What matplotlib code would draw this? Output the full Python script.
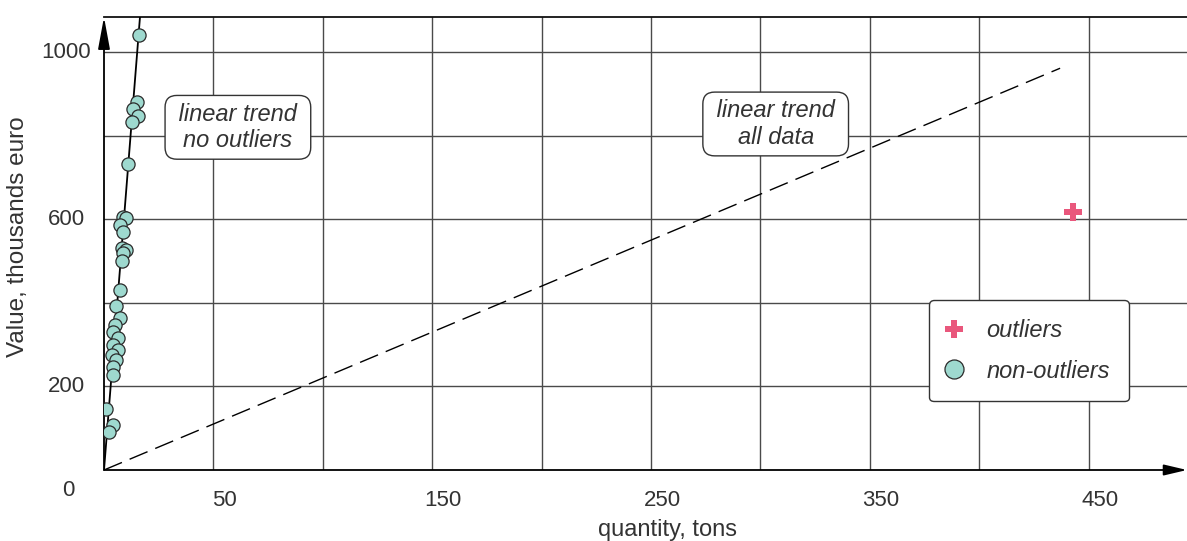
import numpy as np
import matplotlib
matplotlib.use("Agg")
from matplotlib import pyplot as plt
from matplotlib.lines import Line2D

plt.rcParams['font.family'] = ['Liberation Sans', 'DejaVu Sans']

# non-outlier points (quantity in tons, value in thousands euro)
qty = [16.0, 15.1, 13.3, 15.5, 12.8, 11.0, 8.7, 10.1, 7.3, 8.7,
       8.2, 10.1, 8.7, 8.2, 7.3, 5.5, 7.3, 5.0, 4.1, 6.4,
       4.1, 6.4, 3.7, 5.5, 4.1, 4.1, 0.9, 4.1, 2.3]
value = [1040, 880, 864, 848, 832, 732, 605, 603, 586, 569,
         531, 526, 519, 500, 431, 392, 364, 347, 330, 316,
         299, 287, 275, 263, 246, 227, 146, 108, 91]

# outliers
out_qty = [442.9]
out_value = [617]

# trend lines through the origin
slope_no_outliers = 65.9
end_no_outliers = 17.0
slope_all = 2.2
end_all = 437.0

x_grid = [50, 100, 150, 200, 250, 300, 350, 400, 450]
y_grid = [200, 400, 600, 800, 1000]
x_labels = [50, 150, 250, 350, 450]
y_labels = [200, 600, 1000]

text_col = '#333333'
fs = 16      # tick labels
fs_txt = 17  # boxes, legend, axis titles

fig = plt.figure(figsize=(11.87, 5.41), dpi=100)
ax = fig.add_axes([104/1187, 71/541, 1083/1187, 453/541])
ax.set_xlim(0, 495)
ax.set_ylim(0, 1084)

# grid
ax.set_xticks(x_grid)
ax.set_yticks(y_grid)
ax.tick_params(length=0, labelbottom=False, labelleft=False)
ax.grid(True, color='#4a4a4a', linewidth=1.0)
ax.set_axisbelow(True)

for s in ['right', 'bottom', 'left']:
    ax.spines[s].set_visible(False)
ax.spines['top'].set_linewidth(1.3)
ax.spines['top'].set_color('#111111')

# axes with arrows
ax.annotate('', xy=(1.0, 0), xytext=(0, 0), xycoords='axes fraction',
            arrowprops=dict(arrowstyle='-|>,head_length=1.4,head_width=0.33',
                            mutation_scale=10, color='black', lw=1.3,
                            shrinkA=0, shrinkB=0), annotation_clip=False)
ax.annotate('', xy=(0, 1.0), xytext=(0, 0), xycoords='axes fraction',
            arrowprops=dict(arrowstyle='-|>,head_length=1.95,head_width=0.36',
                            mutation_scale=10, color='black', lw=1.3,
                            shrinkA=0, shrinkB=0), annotation_clip=False)

# trend lines
xs = np.array([0, end_no_outliers])
ax.plot(xs, slope_no_outliers*xs, color='black', lw=1.3, zorder=3)
xa = np.array([0, end_all])
ax.plot(xa, slope_all*xa, color='black', lw=1.0, dashes=(14, 6), zorder=3)

# points
ax.scatter(qty, value, s=90, facecolor='#9ed9cf', edgecolor='#2a2a2a',
           linewidth=0.9, zorder=4)
ax.scatter(out_qty, out_value, s=150, marker='P', color='#e9577c',
           linewidth=0, zorder=4)

# annotations
box = dict(boxstyle='round,pad=0.3,rounding_size=0.5', facecolor='white',
           edgecolor='#333333', linewidth=1.0)
ax.text(61.2, 820, ' linear trend \nno outliers', ha='center', va='center',
        style='italic', fontsize=fs_txt, color=text_col, bbox=box, zorder=5,
        linespacing=1.2)
ax.text(307, 828, ' linear trend \nall data', ha='center', va='center',
        style='italic', fontsize=fs_txt, color=text_col, bbox=box, zorder=5,
        linespacing=1.2)

# tick labels
for v in x_labels:
    ax.annotate(str(v), xy=(v, 0), xytext=(8, -22), textcoords='offset points',
                ha='center', va='center', fontsize=fs, color=text_col,
                annotation_clip=False)
for v in y_labels:
    ax.annotate(str(v), xy=(0, v), xytext=(-27.4, 0), textcoords='offset points',
                ha='center', va='center', fontsize=fs, color=text_col,
                annotation_clip=False)
ax.annotate('0', xy=(0, 0), xytext=(-26, -14.4), textcoords='offset points',
            ha='center', va='center', fontsize=fs, color=text_col,
            annotation_clip=False)

fig.text(667/1187, 1-530/541, 'quantity, tons', ha='center', va='center',
         fontsize=fs_txt, color=text_col)
fig.text(18/1187, 1-237/541, 'Value, thousands euro', ha='center', va='center',
         rotation=90, fontsize=17.5, color=text_col)

# legend
handles = [Line2D([], [], linestyle='none', marker='P', markersize=13,
                  color='#e9577c', markeredgewidth=0),
           Line2D([], [], linestyle='none', marker='o', markersize=13.7,
                  markerfacecolor='#9ed9cf', markeredgecolor='#2a2a2a',
                  markeredgewidth=0.9)]
leg = ax.legend(handles, ['outliers', 'non-outliers'], loc='upper left',
                bbox_to_anchor=(929/1187, 1-300/541), bbox_transform=fig.transFigure,
                borderaxespad=0, borderpad=0.8, handlelength=0.52,
                handletextpad=1.1, labelspacing=0.75, fancybox=True,
                framealpha=1, edgecolor='#333333',
                prop=dict(style='italic', size=fs_txt))
for t in leg.get_texts():
    t.set_color(text_col)
leg.get_frame().set_linewidth(1.0)

fig.savefig('out.png', dpi=100)
